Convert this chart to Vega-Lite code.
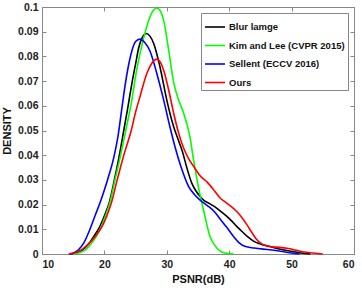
{
  "$schema": "https://vega.github.io/schema/vega-lite/v6.json",
  "width": 312,
  "height": 247,
  "autosize": "none",
  "padding": {"left": 42, "top": 7, "right": 8, "bottom": 34},
  "background": "white",
  "config": {
    "font": "Liberation Sans",
    "view": {"stroke": "#888888", "strokeWidth": 1},
    "axis": {
      "labelFont": "Liberation Sans",
      "labelFontWeight": "bold",
      "labelFontSize": 10.5,
      "labelColor": "#222222",
      "titleFont": "Liberation Sans",
      "titleFontWeight": "bold",
      "titleFontSize": 11,
      "titleColor": "#111111",
      "domainColor": "#888888",
      "tickColor": "#888888",
      "grid": false
    }
  },
  "datasets": {
    "curves": [
      {"method": "Blur lamge", "psnr": 14.5, "density": 0},
      {"method": "Blur lamge", "psnr": 15.5, "density": 0.0005},
      {"method": "Blur lamge", "psnr": 16.5, "density": 0.0017},
      {"method": "Blur lamge", "psnr": 17.5, "density": 0.0042},
      {"method": "Blur lamge", "psnr": 18.4, "density": 0.0075},
      {"method": "Blur lamge", "psnr": 19.2, "density": 0.0108},
      {"method": "Blur lamge", "psnr": 20.0, "density": 0.0155},
      {"method": "Blur lamge", "psnr": 20.8, "density": 0.021},
      {"method": "Blur lamge", "psnr": 21.6, "density": 0.03},
      {"method": "Blur lamge", "psnr": 22.4, "density": 0.04},
      {"method": "Blur lamge", "psnr": 23.1, "density": 0.05},
      {"method": "Blur lamge", "psnr": 23.8, "density": 0.06},
      {"method": "Blur lamge", "psnr": 24.4, "density": 0.069},
      {"method": "Blur lamge", "psnr": 25.0, "density": 0.077},
      {"method": "Blur lamge", "psnr": 25.5, "density": 0.0835},
      {"method": "Blur lamge", "psnr": 26.1, "density": 0.0878},
      {"method": "Blur lamge", "psnr": 26.7, "density": 0.0893},
      {"method": "Blur lamge", "psnr": 27.3, "density": 0.0882},
      {"method": "Blur lamge", "psnr": 27.9, "density": 0.0852},
      {"method": "Blur lamge", "psnr": 28.9, "density": 0.0758},
      {"method": "Blur lamge", "psnr": 30.0, "density": 0.0623},
      {"method": "Blur lamge", "psnr": 31.1, "density": 0.0515},
      {"method": "Blur lamge", "psnr": 31.9, "density": 0.0458},
      {"method": "Blur lamge", "psnr": 32.5, "density": 0.0415},
      {"method": "Blur lamge", "psnr": 33.2, "density": 0.035},
      {"method": "Blur lamge", "psnr": 34.0, "density": 0.0287},
      {"method": "Blur lamge", "psnr": 34.6, "density": 0.0258},
      {"method": "Blur lamge", "psnr": 35.3, "density": 0.0234},
      {"method": "Blur lamge", "psnr": 36.0, "density": 0.0216},
      {"method": "Blur lamge", "psnr": 36.8, "density": 0.0205},
      {"method": "Blur lamge", "psnr": 37.6, "density": 0.0193},
      {"method": "Blur lamge", "psnr": 38.5, "density": 0.0176},
      {"method": "Blur lamge", "psnr": 39.4, "density": 0.0157},
      {"method": "Blur lamge", "psnr": 40.3, "density": 0.0136},
      {"method": "Blur lamge", "psnr": 41.2, "density": 0.0112},
      {"method": "Blur lamge", "psnr": 42.1, "density": 0.009},
      {"method": "Blur lamge", "psnr": 43.0, "density": 0.0069},
      {"method": "Blur lamge", "psnr": 43.9, "density": 0.0052},
      {"method": "Blur lamge", "psnr": 44.8, "density": 0.0042},
      {"method": "Blur lamge", "psnr": 45.6, "density": 0.0035},
      {"method": "Blur lamge", "psnr": 46.5, "density": 0.003},
      {"method": "Blur lamge", "psnr": 48.0, "density": 0.002},
      {"method": "Blur lamge", "psnr": 50.2, "density": 0.001},
      {"method": "Blur lamge", "psnr": 51.5, "density": 0.0004},
      {"method": "Blur lamge", "psnr": 53.0, "density": 0},

      {"method": "Kim and Lee (CVPR 2015)", "psnr": 15.0, "density": 0},
      {"method": "Kim and Lee (CVPR 2015)", "psnr": 16.0, "density": 0.0005},
      {"method": "Kim and Lee (CVPR 2015)", "psnr": 17.0, "density": 0.0018},
      {"method": "Kim and Lee (CVPR 2015)", "psnr": 18.0, "density": 0.0045},
      {"method": "Kim and Lee (CVPR 2015)", "psnr": 19.3, "density": 0.01},
      {"method": "Kim and Lee (CVPR 2015)", "psnr": 20.1, "density": 0.015},
      {"method": "Kim and Lee (CVPR 2015)", "psnr": 20.9, "density": 0.021},
      {"method": "Kim and Lee (CVPR 2015)", "psnr": 21.7, "density": 0.03},
      {"method": "Kim and Lee (CVPR 2015)", "psnr": 22.6, "density": 0.04},
      {"method": "Kim and Lee (CVPR 2015)", "psnr": 23.5, "density": 0.051},
      {"method": "Kim and Lee (CVPR 2015)", "psnr": 24.4, "density": 0.0623},
      {"method": "Kim and Lee (CVPR 2015)", "psnr": 25.0, "density": 0.072},
      {"method": "Kim and Lee (CVPR 2015)", "psnr": 25.7, "density": 0.081},
      {"method": "Kim and Lee (CVPR 2015)", "psnr": 26.4, "density": 0.0885},
      {"method": "Kim and Lee (CVPR 2015)", "psnr": 27.1, "density": 0.0946},
      {"method": "Kim and Lee (CVPR 2015)", "psnr": 27.8, "density": 0.0985},
      {"method": "Kim and Lee (CVPR 2015)", "psnr": 28.4, "density": 0.0996},
      {"method": "Kim and Lee (CVPR 2015)", "psnr": 29.0, "density": 0.0982},
      {"method": "Kim and Lee (CVPR 2015)", "psnr": 29.5, "density": 0.0946},
      {"method": "Kim and Lee (CVPR 2015)", "psnr": 30.3, "density": 0.0825},
      {"method": "Kim and Lee (CVPR 2015)", "psnr": 31.1, "density": 0.0695},
      {"method": "Kim and Lee (CVPR 2015)", "psnr": 31.9, "density": 0.0623},
      {"method": "Kim and Lee (CVPR 2015)", "psnr": 32.7, "density": 0.057},
      {"method": "Kim and Lee (CVPR 2015)", "psnr": 33.7, "density": 0.0475},
      {"method": "Kim and Lee (CVPR 2015)", "psnr": 34.3, "density": 0.038},
      {"method": "Kim and Lee (CVPR 2015)", "psnr": 35.0, "density": 0.028},
      {"method": "Kim and Lee (CVPR 2015)", "psnr": 35.5, "density": 0.022},
      {"method": "Kim and Lee (CVPR 2015)", "psnr": 36.0, "density": 0.0165},
      {"method": "Kim and Lee (CVPR 2015)", "psnr": 36.5, "density": 0.011},
      {"method": "Kim and Lee (CVPR 2015)", "psnr": 36.9, "density": 0.0072},
      {"method": "Kim and Lee (CVPR 2015)", "psnr": 37.6, "density": 0.0038},
      {"method": "Kim and Lee (CVPR 2015)", "psnr": 38.5, "density": 0.0013},
      {"method": "Kim and Lee (CVPR 2015)", "psnr": 39.3, "density": 0.0004},
      {"method": "Kim and Lee (CVPR 2015)", "psnr": 40.7, "density": 0},

      {"method": "Sellent (ECCV 2016)", "psnr": 14.3, "density": 0},
      {"method": "Sellent (ECCV 2016)", "psnr": 15.0, "density": 0.0004},
      {"method": "Sellent (ECCV 2016)", "psnr": 15.8, "density": 0.0016},
      {"method": "Sellent (ECCV 2016)", "psnr": 16.7, "density": 0.0045},
      {"method": "Sellent (ECCV 2016)", "psnr": 17.6, "density": 0.0095},
      {"method": "Sellent (ECCV 2016)", "psnr": 18.5, "density": 0.0155},
      {"method": "Sellent (ECCV 2016)", "psnr": 19.4, "density": 0.0215},
      {"method": "Sellent (ECCV 2016)", "psnr": 20.5, "density": 0.03},
      {"method": "Sellent (ECCV 2016)", "psnr": 21.5, "density": 0.039},
      {"method": "Sellent (ECCV 2016)", "psnr": 22.2, "density": 0.048},
      {"method": "Sellent (ECCV 2016)", "psnr": 22.8, "density": 0.059},
      {"method": "Sellent (ECCV 2016)", "psnr": 23.3, "density": 0.068},
      {"method": "Sellent (ECCV 2016)", "psnr": 23.8, "density": 0.0755},
      {"method": "Sellent (ECCV 2016)", "psnr": 24.4, "density": 0.0822},
      {"method": "Sellent (ECCV 2016)", "psnr": 25.0, "density": 0.086},
      {"method": "Sellent (ECCV 2016)", "psnr": 25.7, "density": 0.087},
      {"method": "Sellent (ECCV 2016)", "psnr": 26.5, "density": 0.0855},
      {"method": "Sellent (ECCV 2016)", "psnr": 27.3, "density": 0.0822},
      {"method": "Sellent (ECCV 2016)", "psnr": 28.4, "density": 0.0731},
      {"method": "Sellent (ECCV 2016)", "psnr": 29.5, "density": 0.0623},
      {"method": "Sellent (ECCV 2016)", "psnr": 30.5, "density": 0.0515},
      {"method": "Sellent (ECCV 2016)", "psnr": 31.3, "density": 0.0435},
      {"method": "Sellent (ECCV 2016)", "psnr": 32.3, "density": 0.0351},
      {"method": "Sellent (ECCV 2016)", "psnr": 33.5, "density": 0.0273},
      {"method": "Sellent (ECCV 2016)", "psnr": 34.4, "density": 0.0242},
      {"method": "Sellent (ECCV 2016)", "psnr": 35.2, "density": 0.0221},
      {"method": "Sellent (ECCV 2016)", "psnr": 35.9, "density": 0.0207},
      {"method": "Sellent (ECCV 2016)", "psnr": 36.6, "density": 0.0194},
      {"method": "Sellent (ECCV 2016)", "psnr": 37.6, "density": 0.0172},
      {"method": "Sellent (ECCV 2016)", "psnr": 38.5, "density": 0.0143},
      {"method": "Sellent (ECCV 2016)", "psnr": 39.7, "density": 0.0105},
      {"method": "Sellent (ECCV 2016)", "psnr": 40.7, "density": 0.0071},
      {"method": "Sellent (ECCV 2016)", "psnr": 41.6, "density": 0.0045},
      {"method": "Sellent (ECCV 2016)", "psnr": 42.5, "density": 0.0031},
      {"method": "Sellent (ECCV 2016)", "psnr": 44.0, "density": 0.0024},
      {"method": "Sellent (ECCV 2016)", "psnr": 46.5, "density": 0.0017},
      {"method": "Sellent (ECCV 2016)", "psnr": 48.5, "density": 0.001},
      {"method": "Sellent (ECCV 2016)", "psnr": 50.0, "density": 0.0004},
      {"method": "Sellent (ECCV 2016)", "psnr": 51.3, "density": 0},

      {"method": "Ours", "psnr": 14.3, "density": 0},
      {"method": "Ours", "psnr": 15.0, "density": 0.0003},
      {"method": "Ours", "psnr": 16.0, "density": 0.0012},
      {"method": "Ours", "psnr": 17.0, "density": 0.003},
      {"method": "Ours", "psnr": 18.0, "density": 0.0055},
      {"method": "Ours", "psnr": 19.0, "density": 0.0087},
      {"method": "Ours", "psnr": 19.7, "density": 0.0115},
      {"method": "Ours", "psnr": 20.4, "density": 0.0155},
      {"method": "Ours", "psnr": 21.1, "density": 0.0205},
      {"method": "Ours", "psnr": 22.0, "density": 0.0295},
      {"method": "Ours", "psnr": 23.1, "density": 0.04},
      {"method": "Ours", "psnr": 24.3, "density": 0.05},
      {"method": "Ours", "psnr": 25.0, "density": 0.0575},
      {"method": "Ours", "psnr": 25.7, "density": 0.0637},
      {"method": "Ours", "psnr": 26.8, "density": 0.0731},
      {"method": "Ours", "psnr": 27.6, "density": 0.0772},
      {"method": "Ours", "psnr": 28.4, "density": 0.0789},
      {"method": "Ours", "psnr": 29.0, "density": 0.0775},
      {"method": "Ours", "psnr": 29.5, "density": 0.0744},
      {"method": "Ours", "psnr": 30.3, "density": 0.0664},
      {"method": "Ours", "psnr": 31.1, "density": 0.057},
      {"method": "Ours", "psnr": 31.9, "density": 0.0489},
      {"method": "Ours", "psnr": 32.6, "density": 0.0435},
      {"method": "Ours", "psnr": 33.4, "density": 0.039},
      {"method": "Ours", "psnr": 34.4, "density": 0.0351},
      {"method": "Ours", "psnr": 35.3, "density": 0.0318},
      {"method": "Ours", "psnr": 36.5, "density": 0.029},
      {"method": "Ours", "psnr": 37.6, "density": 0.0257},
      {"method": "Ours", "psnr": 38.5, "density": 0.0228},
      {"method": "Ours", "psnr": 39.4, "density": 0.021},
      {"method": "Ours", "psnr": 40.3, "density": 0.0193},
      {"method": "Ours", "psnr": 41.2, "density": 0.0172},
      {"method": "Ours", "psnr": 41.9, "density": 0.0152},
      {"method": "Ours", "psnr": 42.8, "density": 0.012},
      {"method": "Ours", "psnr": 43.5, "density": 0.0092},
      {"method": "Ours", "psnr": 44.3, "density": 0.0062},
      {"method": "Ours", "psnr": 45.1, "density": 0.0043},
      {"method": "Ours", "psnr": 46.0, "density": 0.0033},
      {"method": "Ours", "psnr": 47.0, "density": 0.0029},
      {"method": "Ours", "psnr": 48.1, "density": 0.0027},
      {"method": "Ours", "psnr": 49.5, "density": 0.0022},
      {"method": "Ours", "psnr": 50.8, "density": 0.0015},
      {"method": "Ours", "psnr": 52.0, "density": 0.0008},
      {"method": "Ours", "psnr": 53.4, "density": 0.0004},
      {"method": "Ours", "psnr": 55.0, "density": 0}
    ]
  },
  "data": {"name": "curves"},
  "resolve": {"axis": {"x": "independent", "y": "independent"}},
  "layer": [
    {
      "mark": {"type": "line", "strokeWidth": 1.6, "interpolate": "monotone"},
      "encoding": {
        "x": {
          "field": "psnr", "type": "quantitative",
          "scale": {"domain": [10, 60], "nice": false, "zero": false},
          "axis": {"title": "PSNR(dB)", "values": [10, 20, 30, 40, 50, 60], "tickSize": -4, "labelPadding": 9, "titlePadding": 4}
        },
        "y": {
          "field": "density", "type": "quantitative",
          "scale": {"domain": [0, 0.1], "nice": false},
          "axis": {"title": "DENSITY", "values": [0, 0.01, 0.02, 0.03, 0.04, 0.05, 0.06, 0.07, 0.08, 0.09, 0.1], "format": "~g", "tickSize": -4, "labelPadding": 8, "titlePadding": 5}
        },
        "color": {
          "field": "method", "type": "nominal",
          "scale": {
            "domain": ["Blur lamge", "Kim and Lee (CVPR 2015)", "Sellent (ECCV 2016)", "Ours"],
            "range": ["#000000", "#00ff00", "#0000ff", "#ff0000"]
          },
          "legend": {
            "title": null,
            "orient": "none",
            "legendX": 159,
            "legendY": 6,
            "direction": "vertical",
            "fillColor": "white",
            "strokeColor": "#888888",
            "padding": 3,
            "symbolType": "stroke",
            "symbolSize": 400,
            "symbolStrokeWidth": 1.6,
            "labelFont": "Liberation Sans",
            "labelFontWeight": "bold",
            "labelFontSize": 9.5,
            "labelColor": "#111111",
            "labelOffset": 3,
            "rowPadding": 2.5
          }
        }
      }
    },
    {
      "mark": {"type": "line", "opacity": 0},
      "encoding": {
        "x": {
          "field": "psnr", "type": "quantitative",
          "axis": {"orient": "top", "title": null, "labels": false, "values": [10, 20, 30, 40, 50, 60], "tickSize": -4}
        },
        "y": {
          "field": "density", "type": "quantitative",
          "axis": {"orient": "right", "title": null, "labels": false, "values": [0, 0.01, 0.02, 0.03, 0.04, 0.05, 0.06, 0.07, 0.08, 0.09, 0.1], "tickSize": -4}
        },
        "detail": {"field": "method"}
      }
    }
  ]
}
